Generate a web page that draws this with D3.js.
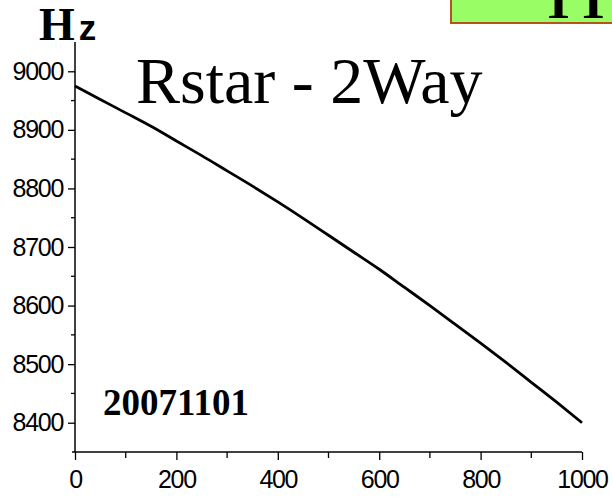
<!DOCTYPE html>
<html>
<head>
<meta charset="utf-8">
<script src="https://cdn.jsdelivr.net/npm/d3@7"></script>
<style>
  html, body { margin: 0; padding: 0; background: #fff; }
  svg { display: block; }
</style>
</head>
<body>
<svg id="chart" width="612" height="498"></svg>
<script>
// Sweep position and measured frequency (Hz)
const positions = [0, 50, 100, 150, 200, 250, 300, 350, 400, 450, 500,
                   550, 600, 650, 700, 750, 800, 850, 900, 950, 1000];
const frequency = [8975, 8952, 8929, 8906, 8881, 8856, 8830, 8804, 8777, 8749, 8720,
                   8691, 8662, 8631, 8600, 8568, 8536, 8503, 8469, 8435, 8400];

const xTicks = [0, 200, 400, 600, 800, 1000];
const xMinor = [100, 300, 500, 700, 900];
const yTicks = [8400, 8500, 8600, 8700, 8800, 8900, 9000];
const yMinor = [8450, 8550, 8650, 8750, 8850, 8950];

const titleText = "Rstar - 2Way";
const unitMain = "H";
const unitSub = "z";
const dateText = "20071101";
const bannerText = "TT";

const svg = d3.select("#chart");

const x = d3.scaleLinear().domain([0, 1000]).range([75, 582]);
const y = d3.scaleLinear().domain([8350, 9050]).range([452, 42]);

// Banner in the upper right corner (its top runs past the page edge)
const banner = svg.append("g");
banner.append("rect")
  .attr("x", 451).attr("y", -40).attr("width", 200).attr("height", 63)
  .attr("fill", "#99fd66").attr("stroke", "#b4531c").attr("stroke-width", 2);
banner.append("text")
  .attr("x", 576).attr("y", 18)
  .attr("text-anchor", "middle")
  .attr("font-family", "Liberation Serif, serif")
  .attr("font-weight", "bold")
  .attr("font-size", 52)
  .attr("fill", "#000")
  .text(bannerText);

// Y axis
const yAxis = d3.axisLeft(y).tickValues(yTicks).tickSize(7).tickPadding(5).tickFormat(d3.format("d"));
const gy = svg.append("g").attr("transform", "translate(75,0)").call(yAxis);
gy.select(".domain").attr("d", "M0," + y(9050) + "V" + y(8350)).attr("stroke", "#000").attr("stroke-width", 1.5);
gy.selectAll(".tick line").attr("stroke", "#000").attr("stroke-width", 1.3);
gy.selectAll(".tick text")
  .attr("font-family", "Liberation Sans, Arial, sans-serif")
  .attr("font-size", 25)
  .attr("letter-spacing", "-1.3")
  .attr("fill", "#000");
svg.append("g").selectAll("line").data(yMinor).join("line")
  .attr("x1", 71).attr("x2", 75)
  .attr("y1", d => y(d)).attr("y2", d => y(d))
  .attr("stroke", "#000").attr("stroke-width", 1.3);

// X axis
const xAxis = d3.axisBottom(x).tickValues(xTicks).tickSize(8).tickPadding(10).tickFormat(d3.format("d"));
const gx = svg.append("g").attr("transform", "translate(0,452)").call(xAxis);
gx.select(".domain").attr("d", "M72,0H" + x(1000)).attr("stroke", "#000").attr("stroke-width", 1.5);
gx.selectAll(".tick line").attr("stroke", "#000").attr("stroke-width", 1.3);
gx.selectAll(".tick text")
  .attr("font-family", "Liberation Sans, Arial, sans-serif")
  .attr("font-size", 25)
  .attr("letter-spacing", "-1.3")
  .attr("fill", "#000");
svg.append("g").selectAll("line").data(xMinor).join("line")
  .attr("x1", d => x(d)).attr("x2", d => x(d))
  .attr("y1", 452).attr("y2", 458)
  .attr("stroke", "#000").attr("stroke-width", 1.3);

// Frequency trace
const line = d3.line().x(d => x(d[0])).y(d => y(d[1])).curve(d3.curveMonotoneX);
svg.append("path")
  .datum(positions.map((p, i) => [p, frequency[i]]))
  .attr("d", line)
  .attr("fill", "none")
  .attr("stroke", "#000")
  .attr("stroke-width", 2.8);

// Unit label
const unit = svg.append("text").attr("x", 39).attr("y", 40);
unit.append("tspan")
  .attr("font-family", "Liberation Serif, serif")
  .attr("font-weight", "bold")
  .attr("font-size", 46)
  .text(unitMain);
unit.append("tspan")
  .attr("dx", 4)
  .attr("font-family", "Liberation Sans Narrow, Liberation Sans, Arial, sans-serif")
  .attr("font-weight", "bold")
  .attr("font-size", 35)
  .text(unitSub);

// Title
svg.append("text")
  .attr("x", 136).attr("y", 103)
  .attr("font-family", "Liberation Serif, serif")
  .attr("font-size", 66)
  .attr("fill", "#000")
  .attr("xml:space", "preserve")
  .text(titleText);

// Date stamp
svg.append("text")
  .attr("x", 103).attr("y", 415)
  .attr("font-family", "Liberation Serif, serif")
  .attr("font-weight", "bold")
  .attr("font-size", 37)
  .attr("fill", "#000")
  .text(dateText);
</script>
</body>
</html>
